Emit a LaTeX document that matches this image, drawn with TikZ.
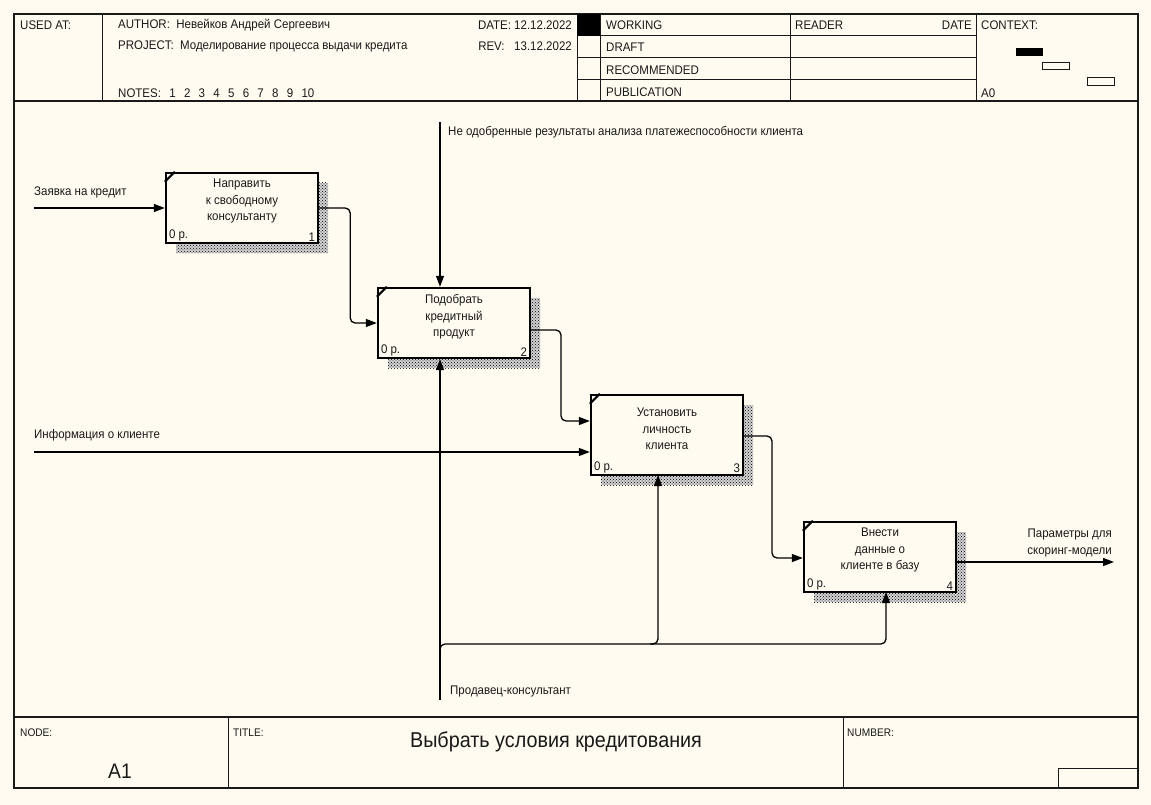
\documentclass[tikz,border=0pt]{standalone}
\usepackage{fontspec}
\setmainfont{Liberation Sans}
\newfontfamily\nar[FakeStretch=0.92]{Liberation Sans}
\usetikzlibrary{arrows.meta,patterns,calc,backgrounds}
\definecolor{bg}{RGB}{255,251,240}
\definecolor{ink}{RGB}{25,25,25}
\newcommand\nsp{\hspace{8.3pt}}
\begin{document}
\begin{tikzpicture}[x=1pt,y=-1pt,
  lbl/.style={font=\nar\fontsize{12.5}{14}\selectfont, inner sep=0pt, text=ink},
  smalllbl/.style={font=\nar\fontsize{11}{13}\selectfont, inner sep=0pt, text=ink},
  boxtxt/.style={font=\nar\fontsize{12.5}{16.5}\selectfont, inner sep=0pt, text=ink, align=center},
  procbox/.style={draw=black, line width=2.4pt, fill=bg, minimum width=152pt, minimum height=70pt, inner sep=0pt},
  frame/.style={draw=ink, line width=1.4pt},
  thin/.style={draw=ink, line width=1pt},
  conn/.style={draw=black, line width=1.3pt, rounded corners=5pt},
  arr/.style={conn, -{Triangle[length=11pt,width=8pt]}},
  shadow/.style={fill=gray!35, postaction={pattern=crosshatch dots, pattern color=black}}
]
\useasboundingbox (0,0) rectangle (1151,805);
\fill[bg] (0,0) rectangle (1151,805);

% ---------- frame ----------
\draw[frame] (14,14) rectangle (1138,788);
\draw[frame] (14,101) -- (1138,101);
\draw[frame] (14,717) -- (1138,717);
% header columns
\draw[thin] (102,14) -- (102,101);
\draw[thin] (577,14) -- (577,101);
\draw[thin] (600,14) -- (600,101);
\draw[thin] (790,14) -- (790,101);
\draw[thin] (976,14) -- (976,101);
\draw[thin] (577,36) -- (976,36);
\draw[thin] (577,58) -- (976,58);
\draw[thin] (577,80) -- (976,80);
\fill[black] (577,14) rectangle (600,36);
% header texts
\node[lbl, anchor=west] (usedat) at (20,25) {USED AT:};
\node[lbl, anchor=west] (author) at (118,25) {AUTHOR:\ \ Невейков Андрей Сергеевич};
\node[lbl, anchor=west] (project) at (118,46) {PROJECT:\ \ Моделирование процесса выдачи кредита};
\node[lbl, anchor=west] (notes) at (118,93) {NOTES:\nsp 1\nsp 2\nsp 3\nsp 4\nsp 5\nsp 6\nsp 7\nsp 8\nsp 9\nsp 10};
\node[lbl, anchor=east] (date) at (572,25) {DATE: 12.12.2022};
\node[lbl, anchor=east] (rev) at (572,46) {REV:\ \ \ 13.12.2022};
\node[lbl, anchor=west] (working) at (606,25) {WORKING};
\node[lbl, anchor=west] (draft) at (606,47) {DRAFT};
\node[lbl, anchor=west] (recom) at (606,70) {RECOMMENDED};
\node[lbl, anchor=west] (publ) at (606,92) {PUBLICATION};
\node[lbl, anchor=west] (reader) at (795,25) {READER};
\node[lbl, anchor=east] (rdate) at (972,25) {DATE};
\node[lbl, anchor=west] (context) at (981,25) {CONTEXT:};
\node[lbl, anchor=west] (a0) at (981,93) {A0};
\fill[black] (1016,48) rectangle (1043,56);
\draw[thin] (1042,63) rectangle (1069,70);
\draw[thin] (1087,78) rectangle (1114,86);

% ---------- footer ----------
\draw[thin] (228,717) -- (228,788);
\draw[thin] (843,717) -- (843,788);
\draw[thin] (1058,768) rectangle (1138,788);
\node[smalllbl, anchor=west] (nodelbl) at (20,733) {NODE:};
\node[smalllbl, anchor=west] (titlelbl) at (233,733) {TITLE:};
\node[smalllbl, anchor=west] (numlbl) at (847,733) {NUMBER:};
\node[lbl, font=\nar\fontsize{21}{24}\selectfont] (a1) at (120,771) {A1};
\node[lbl, font=\nar\fontsize{21.5}{24}\selectfont] (title) at (556,742) {Выбрать условия кредитования};

% ---------- shadows ----------
\fill[shadow] (176,183) rectangle (328,253);
\fill[shadow] (388,298) rectangle (540,368);
\fill[shadow] (601,405) rectangle (753,485);
\fill[shadow] (814,532) rectangle (966,602);

% ---------- boxes ----------
\node[procbox] (b1) at (242,208) {};
\node[procbox] (b2) at (454,323) {};
\node[procbox, minimum height=80pt] (b3) at (667,435) {};
\node[procbox] (b4) at (880,557) {};
\foreach \b/\n in {b1/1,b2/2,b3/3,b4/4}{
  \draw[line width=2pt] ($(\b.north west)+(0,10)$) -- ($(\b.north west)+(10,0)$);
  \node[lbl, anchor=south west] at ($(\b.south west)+(4,-3)$) {0 р.};
  \node[lbl, anchor=south east] at ($(\b.south east)+(-4,-3)$) {\n};
}
\node[boxtxt] (t1) at (242,201) {Направить\\к свободному\\консультанту};
\node[boxtxt] (t2) at (454,317) {Подобрать\\кредитный\\продукт};
\node[boxtxt] (t3) at (667,429) {Установить\\личность\\клиента};
\node[boxtxt] (t4) at (880,550) {Внести\\данные о\\клиенте в базу};

% ---------- connectors ----------
\coordinate (in1) at (34,208);
\coordinate (in2) at (34,452);
\coordinate (ctl) at (440,122);
\coordinate (mech) at (440,700);
\coordinate (out) at (1114,562);
\coordinate (o2) at (530,330);
\coordinate (o3) at (743,436);
\coordinate (o4) at (956,562);

\draw[arr] (in1) -- (in1 -| b1.west);
\draw[arr] (b1.east) -- ++(31,0) |- (b2.west);
\draw[arr] (o2) -- (561,330) |- ($(b3.west)+(0,-14)$);
\draw[arr] (in2) -- (in2 -| b3.west);
\draw[arr] (o3) -- (772,436) |- ($(b4.west)+(0,1)$);
\draw[arr] (o4) -- (out);
\draw[arr] (ctl) -- (ctl |- b2.north);
\draw[arr] (mech) -- (mech |- b2.south);
\draw[arr] (440,654) |- (658,644) -- (658,475);
\draw[arr] (650,644) -| (886,592);

% ---------- arrow labels ----------
\node[lbl, anchor=west] (l1) at (34,192) {Заявка на кредит};
\node[lbl, anchor=west] (l2) at (448,132) {Не одобренные результаты анализа платежеспособности клиента};
\node[lbl, anchor=west] (l3) at (34,435) {Информация о клиенте};
\node[lbl, anchor=east, align=right, font=\nar\fontsize{12.5}{16.5}\selectfont] (l4) at (1112,543) {Параметры для\\скоринг-модели};
\node[lbl, anchor=west] (l5) at (450,691) {Продавец-консультант};
\end{tikzpicture}
\end{document}
